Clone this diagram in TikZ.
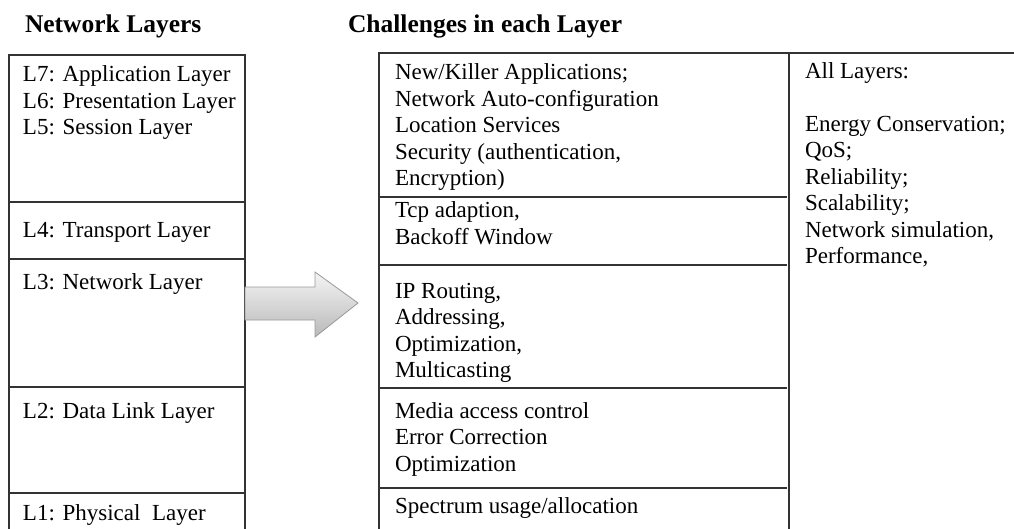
\documentclass[tikz,border=0pt]{standalone}
\usepackage{fontspec}
\setmainfont{Liberation Serif}
\usepackage{tikz}
\tikzset{
    every node/.style={inner sep=0pt, outer sep=0pt, anchor=base west,
    	align=left, font=\fontsize{23}{26.5}\selectfont}
}
\tikzset{
    heading/.style={font=\fontsize{25.5}{28}\selectfont\bfseries}
}
\tikzset{
	grid line/.style={line width=1.3pt, draw=black!80},
	bigarrow/.style={draw=gray!80, line width=0.8pt, top color=gray!8,
		bottom color=gray!55}
}

\begin{document}
\begin{tikzpicture}[x=1pt, y=-1pt]
  \useasboundingbox (0,0) rectangle (1014,529);

  \node (hl) [heading] at (25, 33) {Network Layers};
  \node (hc) [heading] at (348, 33) {Challenges in each Layer};

  % layer boxes (nodes sit on the baseline of their last line)
  \draw [grid line] (9,529) -- (9,55) -- (245,55) -- (245,529);
  \draw [grid line] (9,202) -- (245,202);
  \draw [grid line] (9,259) -- (245,259);
  \draw [grid line] (9,387) -- (245,387);
  \draw [grid line] (9,493) -- (245,493);

  \node (l7) at (23, 135) {L7: Application Layer\\L6: Presentation Layer\\L5: Session Layer};
  \node (l4) at (23, 238) {L4: Transport Layer};
  \node (l3) at (23, 290) {L3: Network Layer};
  \node (l2) at (23, 418) {L2: Data Link Layer};
  \node (l1) at (23, 520) {L1: Physical\ \ Layer};

  % challenge boxes
  \draw [grid line] (379,529) -- (379,53) -- (1014,53);
  \draw [grid line] (789,53) -- (789,529);
  \draw [grid line] (379,197) -- (787,197);
  \draw [grid line] (379,265) -- (787,265);
  \draw [grid line] (379,388) -- (787,388);
  \draw [grid line] (379,488) -- (787,488);

  \node (c7) at (395, 186) {New/Killer Applications;\\Network Auto-configuration\\Location Services\\Security (authentication,\\Encryption)};
  \node (c4) at (395, 244.5) {Tcp adaption,\\Backoff Window};
  \node (c3) at (395, 377.5) {IP Routing,\\Addressing,\\Optimization,\\Multicasting};
  \node (c2) at (395, 471) {Media access control\\Error Correction\\Optimization};
  \node (c1) at (395, 513) {Spectrum usage/allocation};

  \node (all) at (805, 264) {All Layers:\\[26.5pt]Energy Conservation;\\QoS;\\Reliability;\\Scalability;\\Network simulation,\\Performance,};

  % block arrow
  \draw [bigarrow] (245,287) -- (315,287) -- (315,272) -- (358,303)
    -- (315,337) -- (315,320) -- (245,320) -- cycle;
\end{tikzpicture}
\end{document}
